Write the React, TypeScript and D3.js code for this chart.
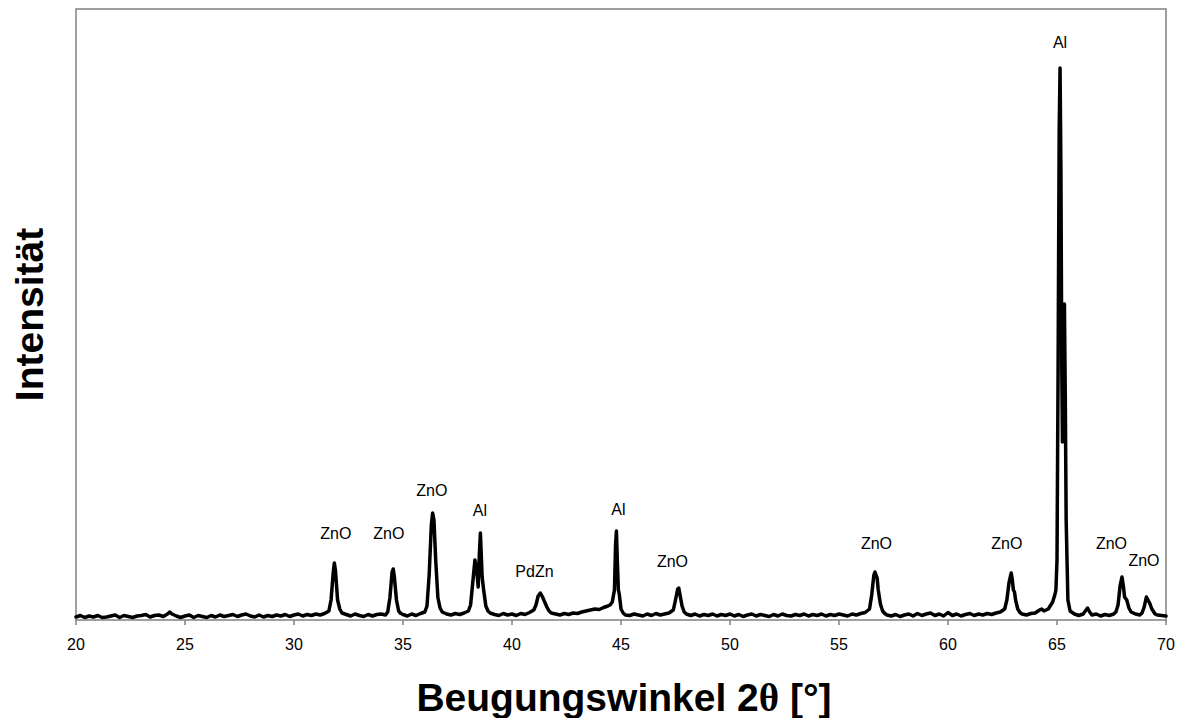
import React, { useMemo } from "react";
import * as d3 from "d3";

// Diffraction pattern: 2θ (degrees) and measured intensity (counts)
const angles: number[] = [
  20.0, 20.2, 20.4, 20.6, 20.8, 21.0, 21.2, 21.4, 21.6, 21.8,
  22.0, 22.2, 22.4, 22.6, 22.8, 23.0, 23.2, 23.4, 23.6, 23.8,
  24.0, 24.2, 24.3, 24.4, 24.6, 24.8, 25.0, 25.2, 25.4, 25.6,
  25.8, 26.0, 26.2, 26.4, 26.6, 26.8, 27.0, 27.2, 27.4, 27.6,
  27.8, 28.0, 28.2, 28.4, 28.6, 28.8, 29.0, 29.2, 29.4, 29.6,
  29.8, 30.0, 30.2, 30.4, 30.6, 30.8, 31.0, 31.2, 31.4, 31.6,
  31.7, 31.8, 31.85, 31.9, 31.95, 32.0, 32.1, 32.2, 32.4, 32.6,
  32.8, 33.0, 33.2, 33.4, 33.6, 33.8, 34.0, 34.2, 34.3, 34.4,
  34.5, 34.55, 34.6, 34.7, 34.8, 34.9, 35.0, 35.2, 35.4, 35.6,
  35.8, 36.0, 36.1, 36.2, 36.3, 36.36, 36.42, 36.5, 36.6, 36.7,
  36.8, 37.0, 37.2, 37.4, 37.6, 37.8, 38.0, 38.1, 38.2, 38.3,
  38.38, 38.45, 38.5, 38.55, 38.6, 38.63, 38.7, 38.8, 38.9, 39.0,
  39.2, 39.4, 39.6, 39.8, 40.0, 40.2, 40.4, 40.6, 40.8, 41.0,
  41.1, 41.2, 41.3, 41.4, 41.5, 41.6, 41.7, 41.8, 42.0, 42.2,
  42.4, 42.6, 42.8, 43.0, 43.2, 43.4, 43.6, 43.8, 44.0, 44.2,
  44.4, 44.5, 44.6, 44.7, 44.75, 44.79, 44.83, 44.88, 44.92, 45.0,
  45.1, 45.2, 45.4, 45.6, 45.8, 46.0, 46.2, 46.4, 46.6, 46.8,
  47.0, 47.2, 47.4, 47.5, 47.6, 47.65, 47.7, 47.8, 47.9, 48.0,
  48.2, 48.4, 48.6, 48.8, 49.0, 49.2, 49.4, 49.6, 49.8, 50.0,
  50.2, 50.4, 50.6, 50.8, 51.0, 51.2, 51.4, 51.6, 51.8, 52.0,
  52.2, 52.4, 52.6, 52.8, 53.0, 53.2, 53.4, 53.6, 53.8, 54.0,
  54.2, 54.4, 54.6, 54.8, 55.0, 55.2, 55.4, 55.6, 55.8, 56.0,
  56.2, 56.4, 56.5, 56.6, 56.65, 56.7, 56.75, 56.8, 56.9, 57.0,
  57.1, 57.2, 57.4, 57.6, 57.8, 58.0, 58.2, 58.4, 58.6, 58.8,
  59.0, 59.2, 59.4, 59.6, 59.8, 60.0, 60.2, 60.4, 60.6, 60.8,
  61.0, 61.2, 61.4, 61.6, 61.8, 62.0, 62.2, 62.4, 62.6, 62.7,
  62.8, 62.9, 62.95, 63.0, 63.05, 63.1, 63.2, 63.3, 63.4, 63.6,
  63.8, 64.0, 64.2, 64.3, 64.4, 64.6, 64.8, 64.9, 64.95, 65.0,
  65.05, 65.1, 65.14, 65.18, 65.22, 65.25, 65.3, 65.34, 65.38, 65.42,
  65.5, 65.6, 65.8, 66.0, 66.2, 66.3, 66.4, 66.5, 66.6, 66.8,
  67.0, 67.2, 67.4, 67.6, 67.7, 67.8, 67.9, 67.98, 68.05, 68.1,
  68.2, 68.3, 68.4, 68.6, 68.8, 68.9, 69.0, 69.1, 69.15, 69.25,
  69.35, 69.5, 69.6, 69.8, 70.0,
];

const counts: number[] = [
  6, 9, 5, 8, 6, 9, 5, 6, 8, 10,
  5, 9, 7, 5, 8, 9, 11, 6, 9, 10,
  7, 12, 16, 12, 8, 5, 8, 10, 5, 9,
  7, 5, 9, 6, 10, 7, 9, 11, 7, 10,
  12, 8, 6, 10, 6, 9, 7, 10, 8, 11,
  7, 10, 12, 8, 11, 9, 12, 10, 13, 18,
  40, 95, 114, 100, 70, 40, 22, 14, 11, 8,
  12, 9, 7, 11, 8, 11, 12, 10, 16, 45,
  96, 102, 88, 40, 18, 13, 11, 8, 12, 9,
  13, 16, 28, 90, 190, 214, 200, 120, 45, 24,
  16, 12, 10, 13, 11, 14, 18, 30, 75, 120,
  100, 66, 130, 174, 120, 86, 60, 28, 18, 14,
  11, 9, 13, 10, 12, 9, 13, 11, 15, 20,
  30, 48, 54, 46, 36, 26, 18, 14, 12, 10,
  13, 11, 14, 13, 16, 18, 20, 22, 21, 25,
  28, 30, 36, 60, 150, 178, 120, 60, 52, 22,
  14, 10, 9, 12, 10, 8, 12, 9, 13, 10,
  12, 14, 20, 40, 62, 64, 52, 28, 16, 12,
  9, 12, 8, 11, 9, 12, 8, 11, 9, 12,
  8, 11, 7, 10, 12, 8, 11, 9, 7, 11,
  8, 12, 9, 8, 11, 9, 12, 8, 11, 9,
  12, 8, 11, 9, 12, 10, 8, 12, 10, 13,
  15, 22, 50, 90, 96, 90, 84, 60, 32, 18,
  13, 10, 8, 11, 7, 10, 12, 8, 13, 9,
  12, 14, 9, 12, 8, 15, 9, 12, 8, 11,
  13, 9, 12, 10, 13, 11, 14, 16, 22, 40,
  75, 94, 80, 60, 56, 40, 22, 15, 12, 10,
  13, 14, 20, 22, 18, 22, 36, 50, 60, 120,
  500, 980, 1104, 900, 500, 356, 550, 632, 450, 200,
  40, 18, 12, 9, 12, 18, 24, 16, 10, 12,
  8, 11, 9, 12, 16, 30, 70, 86, 66, 46,
  40, 24, 16, 12, 10, 14, 26, 46, 42, 34,
  22, 12, 10, 9, 8,
];

// Phase annotations: text, 2θ position and intensity level of the text baseline
const phaseLabels: string[] = [
  "ZnO", "ZnO", "ZnO", "Al", "PdZn", "Al", "ZnO", "ZnO", "ZnO", "Al", "ZnO", "ZnO",
];
const phaseAngles: number[] = [
  31.92, 34.35, 36.32, 38.53, 41.03, 44.88, 47.36, 56.72, 62.7, 65.14, 67.5, 68.99,
];
const phaseLevels: number[] = [
  162, 162, 248, 208, 86, 210, 107, 142, 142, 1144, 142, 108,
];

const xTicks: number[] = [20, 25, 30, 35, 40, 45, 50, 55, 60, 65, 70];

const WIDTH = 1182;
const HEIGHT = 718;
const margin = { left: 76, right: 16, top: 9, bottom: 98 };
const FONT = "'Liberation Sans', Arial, Helvetica, sans-serif";

export default function App() {
  const plotW = WIDTH - margin.left - margin.right;
  const plotH = HEIGHT - margin.top - margin.bottom;

  const x = useMemo(
    () => d3.scaleLinear().domain([20, 70]).range([margin.left, margin.left + plotW]),
    [plotW]
  );
  const y = useMemo(
    () => d3.scaleLinear().domain([0, 1222]).range([margin.top + plotH, margin.top]),
    [plotH]
  );

  const pathD = useMemo(() => {
    const pts: [number, number][] = angles.map((a, i) => [a, counts[i]]);
    return (
      d3
        .line<[number, number]>()
        .x((d) => x(d[0]))
        .y((d) => y(d[1]))(pts) || ""
    );
  }, [x, y]);

  const bottom = margin.top + plotH;
  const frameColor = "#808080";

  return (
    <svg
      width={WIDTH}
      height={HEIGHT}
      style={{ position: "absolute", left: 0, top: 0, display: "block", background: "#fff" }}
    >
      {/* plot frame */}
      <rect
        x={margin.left}
        y={margin.top}
        width={plotW}
        height={plotH}
        fill="none"
        stroke={frameColor}
        strokeWidth={1.5}
      />

      {/* x ticks and labels */}
      {xTicks.map((t) => (
        <g key={t}>
          <line x1={x(t)} x2={x(t)} y1={bottom} y2={bottom + 5} stroke={frameColor} strokeWidth={1.5} />
          <text
            x={x(t)}
            y={bottom + 30}
            textAnchor="middle"
            fontFamily={FONT}
            fontSize={16}
            fill="#000"
          >
            {t}
          </text>
        </g>
      ))}

      {/* pattern */}
      <path
        d={pathD}
        fill="none"
        stroke="#000"
        strokeWidth={3.5}
        strokeLinejoin="round"
        strokeLinecap="round"
      />

      {/* phase annotations */}
      {phaseLabels.map((lbl, i) => (
        <text
          key={i}
          x={x(phaseAngles[i])}
          y={y(phaseLevels[i])}
          textAnchor="middle"
          fontFamily={FONT}
          fontSize={16}
          fill="#000"
        >
          {lbl}
        </text>
      ))}

      {/* axis titles */}
      <text
        x={624}
        y={711}
        textAnchor="middle"
        fontFamily={FONT}
        fontSize={39}
        fontWeight="bold"
        fill="#000"
      >
        Beugungswinkel 2
        <tspan fontFamily="'Liberation Serif', 'DejaVu Serif', serif">θ</tspan> [°]
      </text>
      <text
        transform={`translate(43, ${(margin.top + bottom) / 2}) rotate(-90)`}
        textAnchor="middle"
        fontFamily={FONT}
        fontSize={39}
        fontWeight="bold"
        fill="#000"
      >
        Intensität
      </text>
    </svg>
  );
}
